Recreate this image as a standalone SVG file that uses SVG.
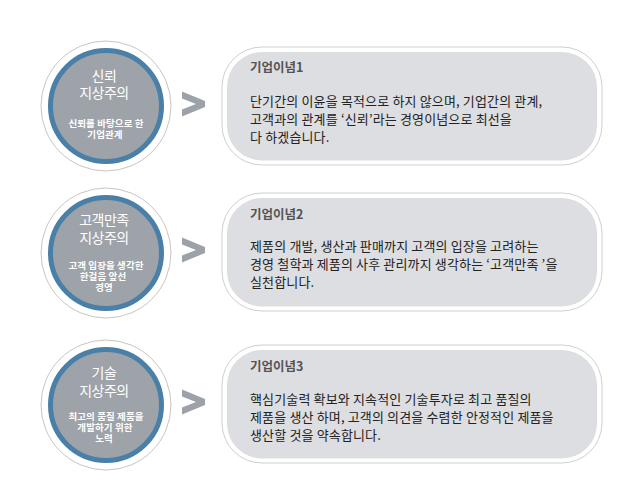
<svg xmlns="http://www.w3.org/2000/svg" width="640" height="495" viewBox="0 0 640 495">
<style>
.ring{fill:#ffffff;stroke:#c9c4bf;stroke-width:1}
.disc{fill:#9ea2a9;stroke:#4a80a8;stroke-width:5}
.big{font-family:"Noto Sans CJK KR","Noto Sans",sans-serif;font-size:14px;fill:#ffffff;text-anchor:middle;letter-spacing:-0.5px}
.small{font-family:"Noto Sans CJK KR","Noto Sans",sans-serif;font-size:9.5px;font-weight:bold;fill:#ffffff;text-anchor:middle;letter-spacing:0.1px}
.outer{fill:#ffffff;stroke:#cfcfcf;stroke-width:1}
.inner{fill:#dddee1}
.title{font-family:"Noto Sans CJK KR","Noto Sans",sans-serif;font-size:12.5px;font-weight:bold;fill:#555555}
.body{font-family:"Noto Sans CJK KR","Noto Sans",sans-serif;font-size:13px;fill:#222222;letter-spacing:0.15px}
.chev{fill:#9da1a8}
</style>
<rect width="640" height="495" fill="#ffffff"/>

<g id="circle1">
<circle class="ring" cx="106" cy="106" r="65"/>
<circle class="disc" cx="106" cy="106" r="55.5"/>
<text class="big"><tspan x="104" y="81">신뢰</tspan><tspan x="104" y="98">지상주의</tspan></text>
<text class="small"><tspan x="106" y="126.5">신뢰를 바탕으로 한</tspan><tspan x="105" y="138">기업관계</tspan></text>
</g>

<g id="circle2">
<circle class="ring" cx="106" cy="253" r="65"/>
<circle class="disc" cx="106" cy="253" r="55.5"/>
<text class="big"><tspan x="104" y="225">고객만족</tspan><tspan x="104" y="242.5">지상주의</tspan></text>
<text class="small"><tspan x="106" y="269">고객 입장을 생각한</tspan><tspan x="103" y="280">한걸음 앞선</tspan><tspan x="104" y="291">경영</tspan></text>
</g>

<g id="circle3">
<circle class="ring" cx="106" cy="405" r="65"/>
<circle class="disc" cx="106" cy="405" r="55.5"/>
<text class="big"><tspan x="104" y="378">기술</tspan><tspan x="104" y="396">지상주의</tspan></text>
<text class="small"><tspan x="106" y="419.5">최고의 품질 제품을</tspan><tspan x="105" y="430.5">개발하기 위한</tspan><tspan x="104" y="442">노력</tspan></text>
</g>

<g id="connectors">
<polygon class="chev" points="182,91.5 205,101 205,107 182,116.5 182,109.5 196,104 182,98.5"/>
<polygon class="chev" transform="translate(0,146)" points="182,91.5 205,101 205,107 182,116.5 182,109.5 196,104 182,98.5"/>
<polygon class="chev" transform="translate(0,298)" points="182,91.5 205,101 205,107 182,116.5 182,109.5 196,104 182,98.5"/>
</g>

<g id="box1">
<rect class="outer" x="222" y="47" width="380" height="118" rx="40" ry="40"/>
<rect class="inner" x="227" y="52" width="370" height="108.5" rx="35" ry="35"/>
<text class="title" x="250" y="72">기업이념1</text>
<text class="body"><tspan x="250" y="106">단기간의 이윤을 목적으로 하지 않으며, 기업간의 관계,</tspan><tspan x="250" y="124">고객과의 관계를 ‘신뢰’라는 경영이념으로 최선을</tspan><tspan x="250" y="142">다 하겠습니다.</tspan></text>
</g>

<g id="box2">
<rect class="outer" x="222" y="193" width="380" height="118" rx="40" ry="40"/>
<rect class="inner" x="227" y="198" width="370" height="108.5" rx="35" ry="35"/>
<text class="title" x="250" y="219">기업이념2</text>
<text class="body"><tspan x="250" y="251">제품의 개발, 생산과 판매까지 고객의 입장을 고려하는</tspan><tspan x="250" y="269">경영 철학과 제품의 사후 관리까지 생각하는 ‘고객만족 ’을</tspan><tspan x="250" y="287">실천합니다.</tspan></text>
</g>

<g id="box3">
<rect class="outer" x="222" y="345" width="380" height="118" rx="40" ry="40"/>
<rect class="inner" x="227" y="350" width="370" height="108.5" rx="35" ry="35"/>
<text class="title" x="250" y="371">기업이념3</text>
<text class="body"><tspan x="250" y="404">핵심기술력 확보와 지속적인 기술투자로 최고 품질의</tspan><tspan x="250" y="422">제품을 생산 하며, 고객의 의견을 수렴한 안정적인 제품을</tspan><tspan x="250" y="440">생산할 것을 약속합니다.</tspan></text>
</g>
</svg>
